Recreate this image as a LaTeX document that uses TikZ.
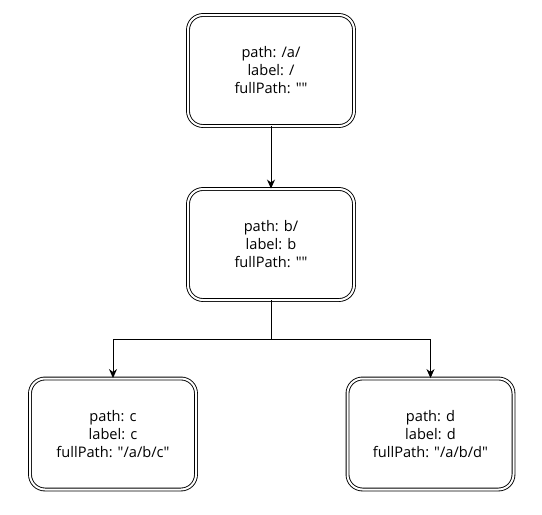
\documentclass[tikz,border=0pt]{standalone}
\usepackage{fontspec}
\setmainfont{Open Sans}
\usetikzlibrary{arrows.meta, positioning}
\newcommand{\dq}{\XeTeXglyph\XeTeXcharglyph"22\relax}

\begin{document}
\begin{tikzpicture}[x=1pt,y=-1pt,
  every node/.style={font=\fontsize{14.6}{18}\selectfont},
  trienode/.style={draw, double, double distance=2pt, line width=0.9pt,
    rounded corners=15pt, minimum width=166pt, minimum height=111pt, align=center},
  link/.style={line width=0.9pt, -{Stealth[length=9pt,width=8pt]}}]
\useasboundingbox (0,0) rectangle (542,515);
% tree nodes
\node[trienode] (root) at (271,70.5) {path: /a/\\label: /\\fullPath: \dq\dq};
\node[trienode] (nodeb) at (271,244.5) {path: b/\\label: b\\fullPath: \dq\dq};
\node[trienode] (leafc) at (113,434) {path: c\\label: c\\fullPath: \dq/a/b/c\dq};
\node[trienode] (leafd) at (430.5,434) {path: d\\label: d\\fullPath: \dq/a/b/d\dq};
% edges
\coordinate (split) at (271,339);
\draw[link] (root.south) -- (nodeb.north);
\draw[link] (nodeb.south) -- (split) -| (leafc.north);
\draw[link] (nodeb.south) -- (split) -| (leafd.north);
\end{tikzpicture}
\end{document}
